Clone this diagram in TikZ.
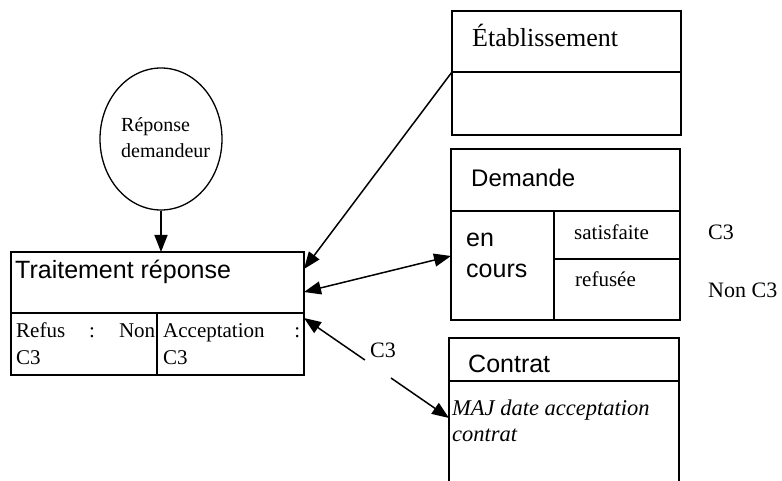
\documentclass[tikz,border=0pt]{standalone}
\usepackage{fontspec}
\setmainfont{Liberation Serif}
\newfontfamily\arialfont{Liberation Sans}
\usetikzlibrary{arrows.meta,shapes.geometric,calc}

\begin{document}
\begin{tikzpicture}[x=1pt,y=-1pt,
  cell/.style={draw, line width=1.3pt, inner sep=0pt, outer sep=0pt, anchor=north west},
  arr/.style={line width=1.5pt, -{Triangle[length=17pt,width=13pt]}},
  darr/.style={line width=1.5pt, {Triangle[length=17pt,width=13pt]}-{Triangle[length=17pt,width=13pt]}},
  sanstxt/.style={font=\arialfont\fontsize{25}{30}\selectfont, inner sep=0pt, anchor=base west},
  sertxt/.style={font=\fontsize{22}{27}\selectfont, inner sep=0pt, anchor=base west},
  celltxt/.style={font=\fontsize{21}{28}\selectfont, inner sep=0pt, anchor=base west},
]
\useasboundingbox (0,0) rectangle (782,481);

% actor: ellipse
\node[draw, ellipse, line width=1.3pt, minimum width=122pt, minimum height=142pt, inner sep=0pt] (rep) at (161,139) {};
\node[sertxt, font=\fontsize{20}{26}\selectfont] (reptxt) at (121,132) {\parbox[t]{95pt}{Réponse\\demandeur}};

% Traitement réponse
\node[cell, minimum width=293pt, minimum height=61pt] (trh) at (11,252) {};
\node[cell, minimum width=146pt, minimum height=62pt] (trl) at (trh.south west) {};
\node[cell, minimum width=147pt, minimum height=62pt] (trr) at (trl.north east) {};
\node[sanstxt] (trtxt) at (15,279) {Traitement réponse};
\node[celltxt] (trltxt) at (16,337) {\parbox[t]{139pt}{Refus\hfill:\hfill Non\\C3}};
\node[celltxt] (trrtxt) at (163,337) {\parbox[t]{137pt}{Acceptation\hfill:\\C3}};

% Établissement
\node[cell, minimum width=229pt, minimum height=61pt] (eh) at (452,11) {};
\node[cell, minimum width=229pt, minimum height=63pt] (eb) at (eh.south west) {};
\node[sertxt, font=\fontsize{26}{30}\selectfont] (ehtxt) at (472,47) {Établissement};

% Demande
\node[cell, minimum width=229pt, minimum height=62pt] (dh) at (451,149) {};
\node[cell, minimum width=103pt, minimum height=109pt] (dc) at (dh.south west) {};
\node[cell, minimum width=126pt, minimum height=48pt] (ds) at (dc.north east) {};
\node[cell, minimum width=126pt, minimum height=61pt] (dr) at (ds.south west) {};
\node[sanstxt, font=\arialfont\fontsize{24}{30}\selectfont] (dhtxt) at (471,187) {Demande};
\node[sanstxt, font=\arialfont\fontsize{25}{31}\selectfont] (dctxt) at (466,247) {\parbox[t]{80pt}{en\\cours}};
\node[celltxt] (dstxt) at (574,240) {satisfaite};
\node[celltxt] (drtxt) at (575,287) {refusée};
\node[sertxt] (dsc3) at (708,240) {C3};
\node[sertxt] (drc3) at (708,297) {Non C3};

% Contrat (open at the bottom)
\node[cell, minimum width=230pt, minimum height=43pt] (ch) at (449,338) {};
\coordinate (cbl) at (449,481);
\coordinate (cbr) at (679,481);
\draw[line width=1.3pt] (ch.south west) -- (cbl) (ch.south east) -- (cbr);
\node[sanstxt] (chtxt) at (468,372) {Contrat};
\node[sertxt, font=\itshape\fontsize{22.5}{26}\selectfont] (cbtxt) at (452,415) {\parbox[t]{225pt}{MAJ date acceptation\\contrat}};

% connectors
\draw[arr] (rep.south) -- (rep.south |- trh.north);
\draw[arr] (eb.north west) -- ($(trh.north east)+(0,17)$);
\draw[darr] ($(trh.north east)+(0,40)$) -- ($(dc.north west)+(0,45)$);
\coordinate (a3s) at ($(trr.north east)+(0,5)$);
\coordinate (a3e) at ($(ch.south west)+(0,37)$);
\coordinate (g1) at ($(a3s)!0.42!(a3e)$);
\coordinate (g2) at ($(a3s)!0.60!(a3e)$);
\draw[arr] (g1) -- (a3s);
\draw[arr] (g2) -- (a3e);
\node[sertxt] (c3lbl) at (370,357) {C3};
\end{tikzpicture}
\end{document}
